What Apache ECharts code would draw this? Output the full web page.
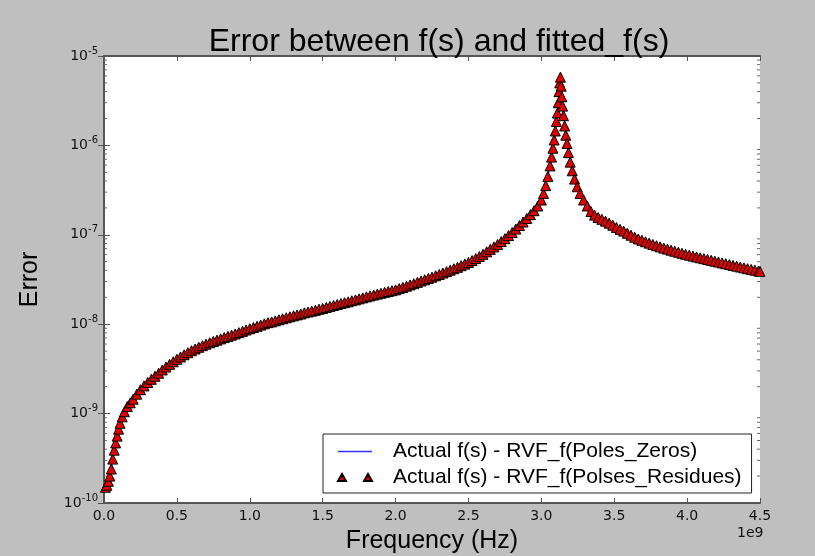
<!DOCTYPE html>
<html>
<head>
<meta charset="utf-8">
<script src="https://cdn.jsdelivr.net/npm/echarts@6/dist/echarts.min.js"></script>
<style>
  html, body { margin: 0; padding: 0; background: #bfbfbf; }
  #chart { width: 815px; height: 556px; }
</style>
</head>
<body>
<div id="chart"></div>
<script>
// frequency in GHz (axis is shown with a 1e9 offset) in four stretches
const lowFreq = [
  0.010, 0.020, 0.030, 0.040, 0.050, 0.060, 0.070, 0.080, 0.090, 0.100,
  0.110, 0.125, 0.140, 0.160, 0.180
];
const lowErr = [
  1.50e-10, 1.58e-10, 1.75e-10, 2.00e-10, 2.40e-10, 3.10e-10, 3.90e-10, 4.70e-10, 5.60e-10, 6.70e-10,
  7.80e-10, 9.20e-10, 1.05e-9, 1.20e-9, 1.32e-9
];

const riseFreq = [
  0.200, 0.225, 0.250, 0.275, 0.300, 0.325, 0.350, 0.375, 0.400, 0.425,
  0.450, 0.475, 0.500, 0.525, 0.550, 0.575, 0.600, 0.625, 0.650, 0.675,
  0.700, 0.725, 0.750, 0.775, 0.800, 0.825, 0.850, 0.875, 0.900, 0.925,
  0.950, 0.975, 1.000, 1.025, 1.050, 1.075, 1.100, 1.125, 1.150, 1.175,
  1.200, 1.225, 1.250, 1.275, 1.300, 1.325, 1.350, 1.375, 1.400, 1.425,
  1.450, 1.475, 1.500, 1.525, 1.550, 1.575, 1.600, 1.625, 1.650, 1.675,
  1.700, 1.725, 1.750, 1.775, 1.800, 1.825, 1.850, 1.875, 1.900, 1.925,
  1.950, 1.975, 2.000, 2.025, 2.050, 2.075, 2.100, 2.125, 2.150, 2.175,
  2.200, 2.225, 2.250, 2.275, 2.300, 2.325, 2.350, 2.375, 2.400, 2.425,
  2.450, 2.475, 2.500, 2.525, 2.550, 2.575, 2.600, 2.625, 2.650, 2.675,
  2.700, 2.725, 2.750, 2.775, 2.800, 2.825, 2.850, 2.875, 2.900, 2.925,
  2.950, 2.975, 3.000
];
const riseErr = [
  1.45e-9, 1.65e-9, 1.85e-9, 2.04e-9, 2.23e-9, 2.42e-9, 2.62e-9, 2.83e-9, 3.08e-9, 3.32e-9,
  3.56e-9, 3.80e-9, 4.05e-9, 4.30e-9, 4.55e-9, 4.80e-9, 5.05e-9, 5.28e-9, 5.52e-9, 5.75e-9,
  5.98e-9, 6.20e-9, 6.42e-9, 6.63e-9, 6.85e-9, 7.08e-9, 7.31e-9, 7.54e-9, 7.78e-9, 8.05e-9,
  8.33e-9, 8.61e-9, 8.90e-9, 9.18e-9, 9.47e-9, 9.78e-9, 1.01e-8, 1.04e-8, 1.06e-8, 1.09e-8,
  1.12e-8, 1.15e-8, 1.18e-8, 1.21e-8, 1.24e-8, 1.27e-8, 1.30e-8, 1.34e-8, 1.37e-8, 1.40e-8,
  1.43e-8, 1.47e-8, 1.50e-8, 1.54e-8, 1.58e-8, 1.62e-8, 1.66e-8, 1.70e-8, 1.74e-8, 1.78e-8,
  1.83e-8, 1.87e-8, 1.92e-8, 1.97e-8, 2.02e-8, 2.07e-8, 2.12e-8, 2.17e-8, 2.22e-8, 2.27e-8,
  2.32e-8, 2.37e-8, 2.42e-8, 2.50e-8, 2.58e-8, 2.66e-8, 2.75e-8, 2.84e-8, 2.94e-8, 3.04e-8,
  3.14e-8, 3.25e-8, 3.36e-8, 3.48e-8, 3.60e-8, 3.73e-8, 3.87e-8, 4.02e-8, 4.17e-8, 4.33e-8,
  4.51e-8, 4.70e-8, 4.90e-8, 5.15e-8, 5.42e-8, 5.72e-8, 6.05e-8, 6.45e-8, 6.88e-8, 7.32e-8,
  7.80e-8, 8.40e-8, 9.05e-8, 9.80e-8, 1.06e-7, 1.16e-7, 1.27e-7, 1.39e-7, 1.52e-7, 1.68e-7,
  1.86e-7, 2.10e-7, 2.45e-7
];

const peakFreq = [
  3.015, 3.030, 3.045, 3.060, 3.070, 3.080, 3.088, 3.096, 3.103, 3.110,
  3.116, 3.121, 3.126, 3.131, 3.136, 3.141, 3.146, 3.152, 3.160, 3.168,
  3.176, 3.186, 3.198, 3.212, 3.228, 3.246, 3.266, 3.290, 3.315
];
const peakErr = [
  2.90e-7, 3.55e-7, 4.50e-7, 5.90e-7, 7.40e-7, 9.30e-7, 1.15e-6, 1.45e-6, 1.85e-6, 2.30e-6,
  3.00e-6, 4.00e-6, 5.00e-6, 5.80e-6, 4.60e-6, 3.50e-6, 2.75e-6, 2.15e-6, 1.65e-6, 1.30e-6,
  1.05e-6, 8.30e-7, 6.50e-7, 5.20e-7, 4.20e-7, 3.45e-7, 2.90e-7, 2.45e-7, 2.10e-7
];

const tailFreq = [
  3.340, 3.365, 3.390, 3.415, 3.440, 3.465, 3.490, 3.515, 3.540, 3.565,
  3.590, 3.615, 3.640, 3.665, 3.690, 3.715, 3.740, 3.765, 3.790, 3.815,
  3.840, 3.865, 3.890, 3.915, 3.940, 3.965, 3.990, 4.015, 4.040, 4.065,
  4.090, 4.115, 4.140, 4.165, 4.190, 4.215, 4.240, 4.265, 4.290, 4.315,
  4.340, 4.365, 4.390, 4.415, 4.440, 4.465, 4.490, 4.500
];
const tailErr = [
  1.82e-7, 1.66e-7, 1.56e-7, 1.49e-7, 1.42e-7, 1.35e-7, 1.28e-7, 1.21e-7, 1.15e-7, 1.10e-7,
  1.04e-7, 9.90e-8, 9.40e-8, 9.00e-8, 8.68e-8, 8.36e-8, 8.07e-8, 7.80e-8, 7.55e-8, 7.33e-8,
  7.10e-8, 6.92e-8, 6.73e-8, 6.55e-8, 6.38e-8, 6.22e-8, 6.06e-8, 5.92e-8, 5.78e-8, 5.65e-8,
  5.53e-8, 5.41e-8, 5.30e-8, 5.18e-8, 5.07e-8, 4.96e-8, 4.85e-8, 4.75e-8, 4.65e-8, 4.55e-8,
  4.46e-8, 4.36e-8, 4.27e-8, 4.18e-8, 4.10e-8, 4.02e-8, 3.94e-8, 3.90e-8
];

const seriesNames = [
  "Actual f(s) - RVF_f(Poles_Zeros)",
  "Actual f(s) - RVF_f(Polses_Residues)"
];
const xMin = 0;
const xMax = 4.5e9;
const yMin = 1e-10;
const yMax = 1e-5;

const freqGHz = lowFreq.concat(riseFreq, peakFreq, tailFreq);
const errorVals = lowErr.concat(riseErr, peakErr, tailErr);
const points = freqGHz.map((f, i) => [f * 1e9, errorVals[i]]);

// minor log ticks 2..9 in each decade
const minorTicks = [];
for (let d = -10; d < -5; d++) {
  for (let k = 2; k <= 9; k++) minorTicks.push([xMin, k * Math.pow(10, d)]);
}

const chart = echarts.init(document.getElementById("chart"));

const axisLineStyle = { color: "#555", width: 2 };
const tickStyle = { color: "#555", width: 1 };

const yLabelFmt = function (v) {
  const e = Math.round(Math.log10(v));
  return "{b|10}{s|" + e + "}";
};

const option = {
  backgroundColor: "#bfbfbf",
  animation: false,
  title: {
    text: "Error between f(s) and fitted_f(s)",
    left: 434,
    top: 21,
    textAlign: "center",
    textStyle: {
      fontFamily: "Liberation Sans",
      fontSize: 32,
      fontWeight: "normal",
      color: "#000"
    }
  },
  grid: {
    left: 104,
    right: 55,
    top: 56,
    bottom: 53,
    backgroundColor: "#fff",
    show: true,
    borderWidth: 0,
    outerBoundsMode: "none"
  },
  legend: {
    orient: "vertical",
    left: 323,
    top: 434,
    padding: [7, 10, 5, 14],
    itemGap: 5,
    itemWidth: 34,
    itemHeight: 7,
    backgroundColor: "#fff",
    borderColor: "#222",
    borderWidth: 1,
    borderRadius: 0,
    textStyle: {
      fontFamily: "Liberation Sans",
      fontSize: 21,
      color: "#000",
      padding: [0, 0, 0, 16]
    },
    data: [
      { name: seriesNames[0], icon: "path://M0,0 L34,0 L34,1.4 L0,1.4 Z" },
      { name: seriesNames[1], icon: "path://M0,7 L4,0 L8,7 Z M26,7 L30,0 L34,7 Z" }
    ]
  },
  graphic: [
    {
      type: "text",
      left: 737,
      top: 526,
      style: {
        text: "1e9",
        fontFamily: "DejaVu Sans",
        fontSize: 14,
        fill: "#111"
      }
    }
  ],
  xAxis: [
    {
      type: "value",
      min: xMin,
      max: xMax,
      interval: 0.5e9,
      name: "Frequency (Hz)",
      nameLocation: "middle",
      nameGap: 26,
      nameTextStyle: { fontFamily: "Liberation Sans", fontSize: 25, color: "#000" },
      axisLine: { show: true, lineStyle: axisLineStyle },
      axisTick: { show: true, inside: true, length: 5, lineStyle: tickStyle },
      axisLabel: {
        formatter: (v) => (v / 1e9).toFixed(1),
        fontFamily: "DejaVu Sans",
        fontSize: 14,
        color: "#111",
        margin: 6,
        showMinLabel: true,
        showMaxLabel: true
      },
      splitLine: { show: false }
    },
    {
      type: "value",
      position: "top",
      min: xMin,
      max: xMax,
      interval: 0.5e9,
      axisLine: { show: true, lineStyle: axisLineStyle },
      axisTick: { show: true, inside: true, length: 5, lineStyle: tickStyle },
      axisLabel: { show: false },
      splitLine: { show: false }
    }
  ],
  yAxis: [
    {
      type: "log",
      logBase: 10,
      min: yMin,
      max: yMax,
      name: "Error",
      nameLocation: "middle",
      nameGap: 61,
      nameRotate: 90,
      nameTextStyle: { fontFamily: "Liberation Sans", fontSize: 25, color: "#000" },
      axisLine: { show: true, lineStyle: axisLineStyle },
      axisTick: { show: true, inside: true, length: 6, lineStyle: tickStyle },
      axisLabel: {
        formatter: yLabelFmt,
        color: "#111",
        margin: 6,
        rich: {
          b: { fontFamily: "DejaVu Sans", fontSize: 14, color: "#111" },
          s: { fontFamily: "DejaVu Sans", fontSize: 10, color: "#111", padding: [0, 0, 10, 0] }
        }
      },
      splitLine: { show: false }
    },
    {
      type: "log",
      logBase: 10,
      position: "right",
      min: yMin,
      max: yMax,
      axisLine: { show: true, lineStyle: axisLineStyle },
      axisTick: { show: true, inside: true, length: 6, lineStyle: tickStyle },
      axisLabel: { show: false },
      splitLine: { show: false }
    }
  ],
  series: [
    {
      name: "minorTicks",
      type: "custom",
      silent: true,
      xAxisIndex: 0,
      yAxisIndex: 0,
      data: minorTicks,
      z: 1,
      renderItem: function (params, api) {
        const v = api.value(1);
        const l = api.coord([xMin, v]);
        const r = api.coord([xMax, v]);
        return {
          type: "group",
          children: [
            { type: "line", shape: { x1: l[0], y1: l[1], x2: l[0] + 3, y2: l[1] }, style: { stroke: "#666", lineWidth: 1 } },
            { type: "line", shape: { x1: r[0] - 3, y1: r[1], x2: r[0], y2: r[1] }, style: { stroke: "#666", lineWidth: 1 } }
          ]
        };
      }
    },
    {
      name: seriesNames[0],
      type: "line",
      data: points,
      symbol: "none",
      showSymbol: false,
      lineStyle: { color: "#3030ff", width: 1.2 },
      itemStyle: { color: "#3030ff" },
      z: 2
    },
    {
      name: seriesNames[1],
      type: "scatter",
      data: points,
      symbol: "triangle",
      symbolSize: 10,
      itemStyle: { color: "#e00000", borderColor: "#000", borderWidth: 1, opacity: 1 },
      z: 3
    }
  ]
};

chart.setOption(option);
</script>
</body>
</html>
